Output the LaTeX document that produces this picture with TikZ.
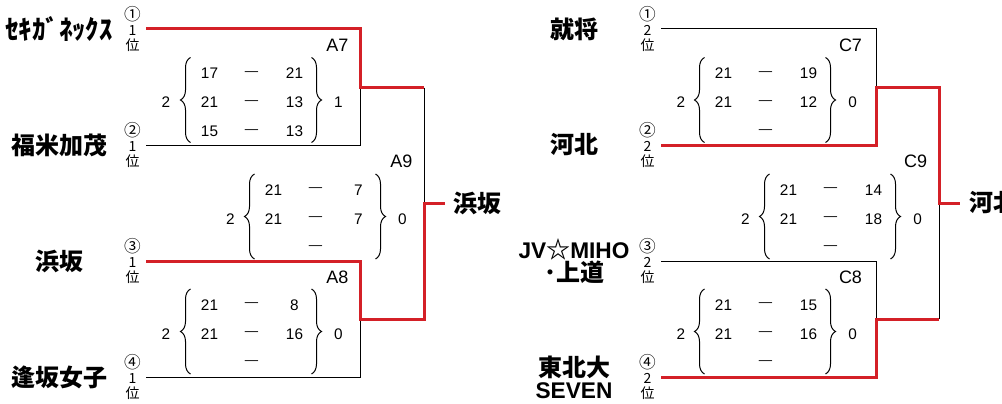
\documentclass[tikz,border=0pt]{standalone}
\usepackage{fontspec}
\setmainfont{Liberation Sans}
\newfontfamily\jpfont{Noto Sans CJK JP}
\newcommand\teamlatin[1]{{\rmfamily\bfseries\fontsize{17}{16.5}\selectfont #1}}
\newcommand\rankmark[1]{{\fontsize{12.5}{11.25}\selectfont #1}}
\usetikzlibrary{decorations.pathreplacing}

\definecolor{winred}{RGB}{212,32,39}

\tikzset{every picture/.style={line width=0.75pt}}
\tikzset{
  team/.style={inner sep=0pt, align=center, font=\jpfont\bfseries\fontsize{18}{16.5}\selectfont},
  rank/.style={inner sep=0pt, align=center, font=\jpfont\fontsize{10.5}{11.25}\selectfont},
  score/.style={inner sep=0.75pt, font=\fontsize{11.5}{12}\selectfont},
  dashmark/.style={inner sep=0.75pt, font=\fontsize{10}{12}\selectfont},
  matchlabel/.style={inner sep=0.75pt, anchor=east, font=\fontsize{13.5}{14}\selectfont},
  winline/.style={color=winred, line width=2.25pt},
  lossline/.style={color=black, line width=0.75pt},
  scorebrace/.style={decorate, decoration={brace, amplitude=7.5pt}},
}

\begin{document}
\begin{tikzpicture}[x=0.75pt,y=0.75pt,yscale=-1,xscale=1]
\useasboundingbox (0,0) rectangle (1002,403);

% Text Node
\node [team, font=\jpfont\bfseries\fontsize{20}{16.5}\selectfont] (t1) at (59,29) {ｾｷｶﾞﾈｯｸｽ};
\node [team] (t2) at (59.5,145) {福米加茂};
\node [team] (t3) at (59.5,261) {浜坂};
\node [team] (t4) at (59.5,377) {逢坂女子};
\node [team] (t5) at (574,29) {就将};
\node [team] (t6) at (574,145) {河北};
\node [team] (t7) at (574,261) {\teamlatin{JV}☆\teamlatin{MIHO}\\･上道};
\node [team] (t8) at (574,377) {東北大\\\teamlatin{SEVEN}};
% Text Node
\node [rank] (r1) at (132.5,29) {\rankmark{①}\\1\\位};
\node [rank] (r2) at (132.5,145) {\rankmark{②}\\1\\位};
\node [rank] (r3) at (132.5,261) {\rankmark{③}\\1\\位};
\node [rank] (r4) at (132.5,377) {\rankmark{④}\\1\\位};
\node [rank] (r5) at (647.5,29) {\rankmark{①}\\2\\位};
\node [rank] (r6) at (647.5,145) {\rankmark{②}\\2\\位};
\node [rank] (r7) at (647.5,261) {\rankmark{③}\\2\\位};
\node [rank] (r8) at (647.5,377) {\rankmark{④}\\2\\位};
% Text Node
\node [team, anchor=west] (w1) at (453,203) {浜坂};
\node [team, anchor=west] (w2) at (969,203) {河北};

\coordinate (p1) at (146,29);
\coordinate (p2) at (146,145);
\coordinate (p3) at (146,261);
\coordinate (p4) at (146,377.5);
\coordinate (q1) at (661,29);
\coordinate (q2) at (661,145);
\coordinate (q3) at (661,261);
\coordinate (q4) at (661,377.5);
\coordinate (j7) at (360,87.5);
\coordinate (j8) at (360,319);
\coordinate (j9) at (424,203);
\coordinate (k7) at (876,87.5);
\coordinate (k8) at (876,319);
\coordinate (k9) at (939,203);

%Straight Lines
\draw [lossline] (p2) -| (j7);
\draw [lossline] (p4) -| (j8);
\draw [lossline] (j7 -| j9) -- (j9);
\draw [winline] (p1) -| (j7) -- (j7 -| j9);
\draw [winline] (p3) -| (j8) -| (j9) -- ([xshift=-6pt]w1.west);
%Straight Lines
\draw [lossline] (q1) -| (k7);
\draw [lossline] (q3) -| (k8);
\draw [lossline] (k8 -| k9) -- (k9);
\draw [winline] (q2) -| (k7) -| (k9) -- ([xshift=-6.5pt]w2.west);
\draw [winline] (q4) -| (k8) -- (k8 -| k9);

%Shape: Brace
\draw [scorebrace] (190.5,142.5) -- (190.5,57.5);
\draw [scorebrace] (311.5,57.5) -- (311.5,142.5);
\draw [scorebrace] (190.5,374) -- (190.5,289);
\draw [scorebrace] (311.5,289) -- (311.5,374);
\draw [scorebrace] (254.5,259) -- (254.5,174);
\draw [scorebrace] (375.5,174) -- (375.5,259);
\draw [scorebrace] (704.5,142.5) -- (704.5,57.5);
\draw [scorebrace] (825.5,57.5) -- (825.5,142.5);
\draw [scorebrace] (704.5,374) -- (704.5,289);
\draw [scorebrace] (825.5,289) -- (825.5,374);
\draw [scorebrace] (769.5,259) -- (769.5,174);
\draw [scorebrace] (890.5,174) -- (890.5,259);

% Text Node
\node [matchlabel] (a7) at (350,45.5) {A7};
\node [score] (a7w) at (166,102.5) {2};
\node [score] (a7l) at (338.5,102.5) {1};
\node [score] (a7s1) at (209.5,73.5) {17}; \node [dashmark] (a7d1) at (251.5,73.5) {—}; \node [score] (a7e1) at (294.5,73.5) {21};
\node [score] (a7s2) at (209.5,102.5) {21}; \node [dashmark] (a7d2) at (251.5,102.5) {—}; \node [score] (a7e2) at (294.5,102.5) {13};
\node [score] (a7s3) at (209.5,131.5) {15}; \node [dashmark] (a7d3) at (251.5,131.5) {—}; \node [score] (a7e3) at (294.5,131.5) {13};
% Text Node
\node [matchlabel] (a8) at (350,277) {A8};
\node [score] (a8w) at (166,334) {2};
\node [score] (a8l) at (338.5,334) {0};
\node [score] (a8s1) at (209.5,305) {21}; \node [dashmark] (a8d1) at (251.5,305) {—}; \node [score] (a8e1) at (294.5,305) {8};
\node [score] (a8s2) at (209.5,334) {21}; \node [dashmark] (a8d2) at (251.5,334) {—}; \node [score] (a8e2) at (294.5,334) {16};
\node [dashmark] (a8d3) at (251.5,363) {—};
% Text Node
\node [matchlabel] (a9) at (414,161) {A9};
\node [score] (a9w) at (230.5,219) {2};
\node [score] (a9l) at (402.5,219) {0};
\node [score] (a9s1) at (273.5,190) {21}; \node [dashmark] (a9d1) at (315.5,190) {—}; \node [score] (a9e1) at (358.5,190) {7};
\node [score] (a9s2) at (273.5,219) {21}; \node [dashmark] (a9d2) at (315.5,219) {—}; \node [score] (a9e2) at (358.5,219) {7};
\node [dashmark] (a9d3) at (315.5,248) {—};
% Text Node
\node [matchlabel] (c7) at (863.5,45.5) {C7};
\node [score] (c7w) at (681,102.5) {2};
\node [score] (c7l) at (852.5,102.5) {0};
\node [score] (c7s1) at (723.5,73.5) {21}; \node [dashmark] (c7d1) at (765.5,73.5) {—}; \node [score] (c7e1) at (808.5,73.5) {19};
\node [score] (c7s2) at (723.5,102.5) {21}; \node [dashmark] (c7d2) at (765.5,102.5) {—}; \node [score] (c7e2) at (808.5,102.5) {12};
\node [dashmark] (c7d3) at (765.5,131.5) {—};
% Text Node
\node [matchlabel] (c8) at (863.5,277) {C8};
\node [score] (c8w) at (681,334) {2};
\node [score] (c8l) at (852.5,334) {0};
\node [score] (c8s1) at (723.5,305) {21}; \node [dashmark] (c8d1) at (765.5,305) {—}; \node [score] (c8e1) at (808.5,305) {15};
\node [score] (c8s2) at (723.5,334) {21}; \node [dashmark] (c8d2) at (765.5,334) {—}; \node [score] (c8e2) at (808.5,334) {16};
\node [dashmark] (c8d3) at (765.5,363) {—};
% Text Node
\node [matchlabel] (c9) at (928.5,161) {C9};
\node [score] (c9w) at (745.5,219) {2};
\node [score] (c9l) at (917.5,219) {0};
\node [score] (c9s1) at (788.5,190) {21}; \node [dashmark] (c9d1) at (830.5,190) {—}; \node [score] (c9e1) at (873.5,190) {14};
\node [score] (c9s2) at (788.5,219) {21}; \node [dashmark] (c9d2) at (830.5,219) {—}; \node [score] (c9e2) at (873.5,219) {18};
\node [dashmark] (c9d3) at (830.5,248) {—};

\end{tikzpicture}
\end{document}
